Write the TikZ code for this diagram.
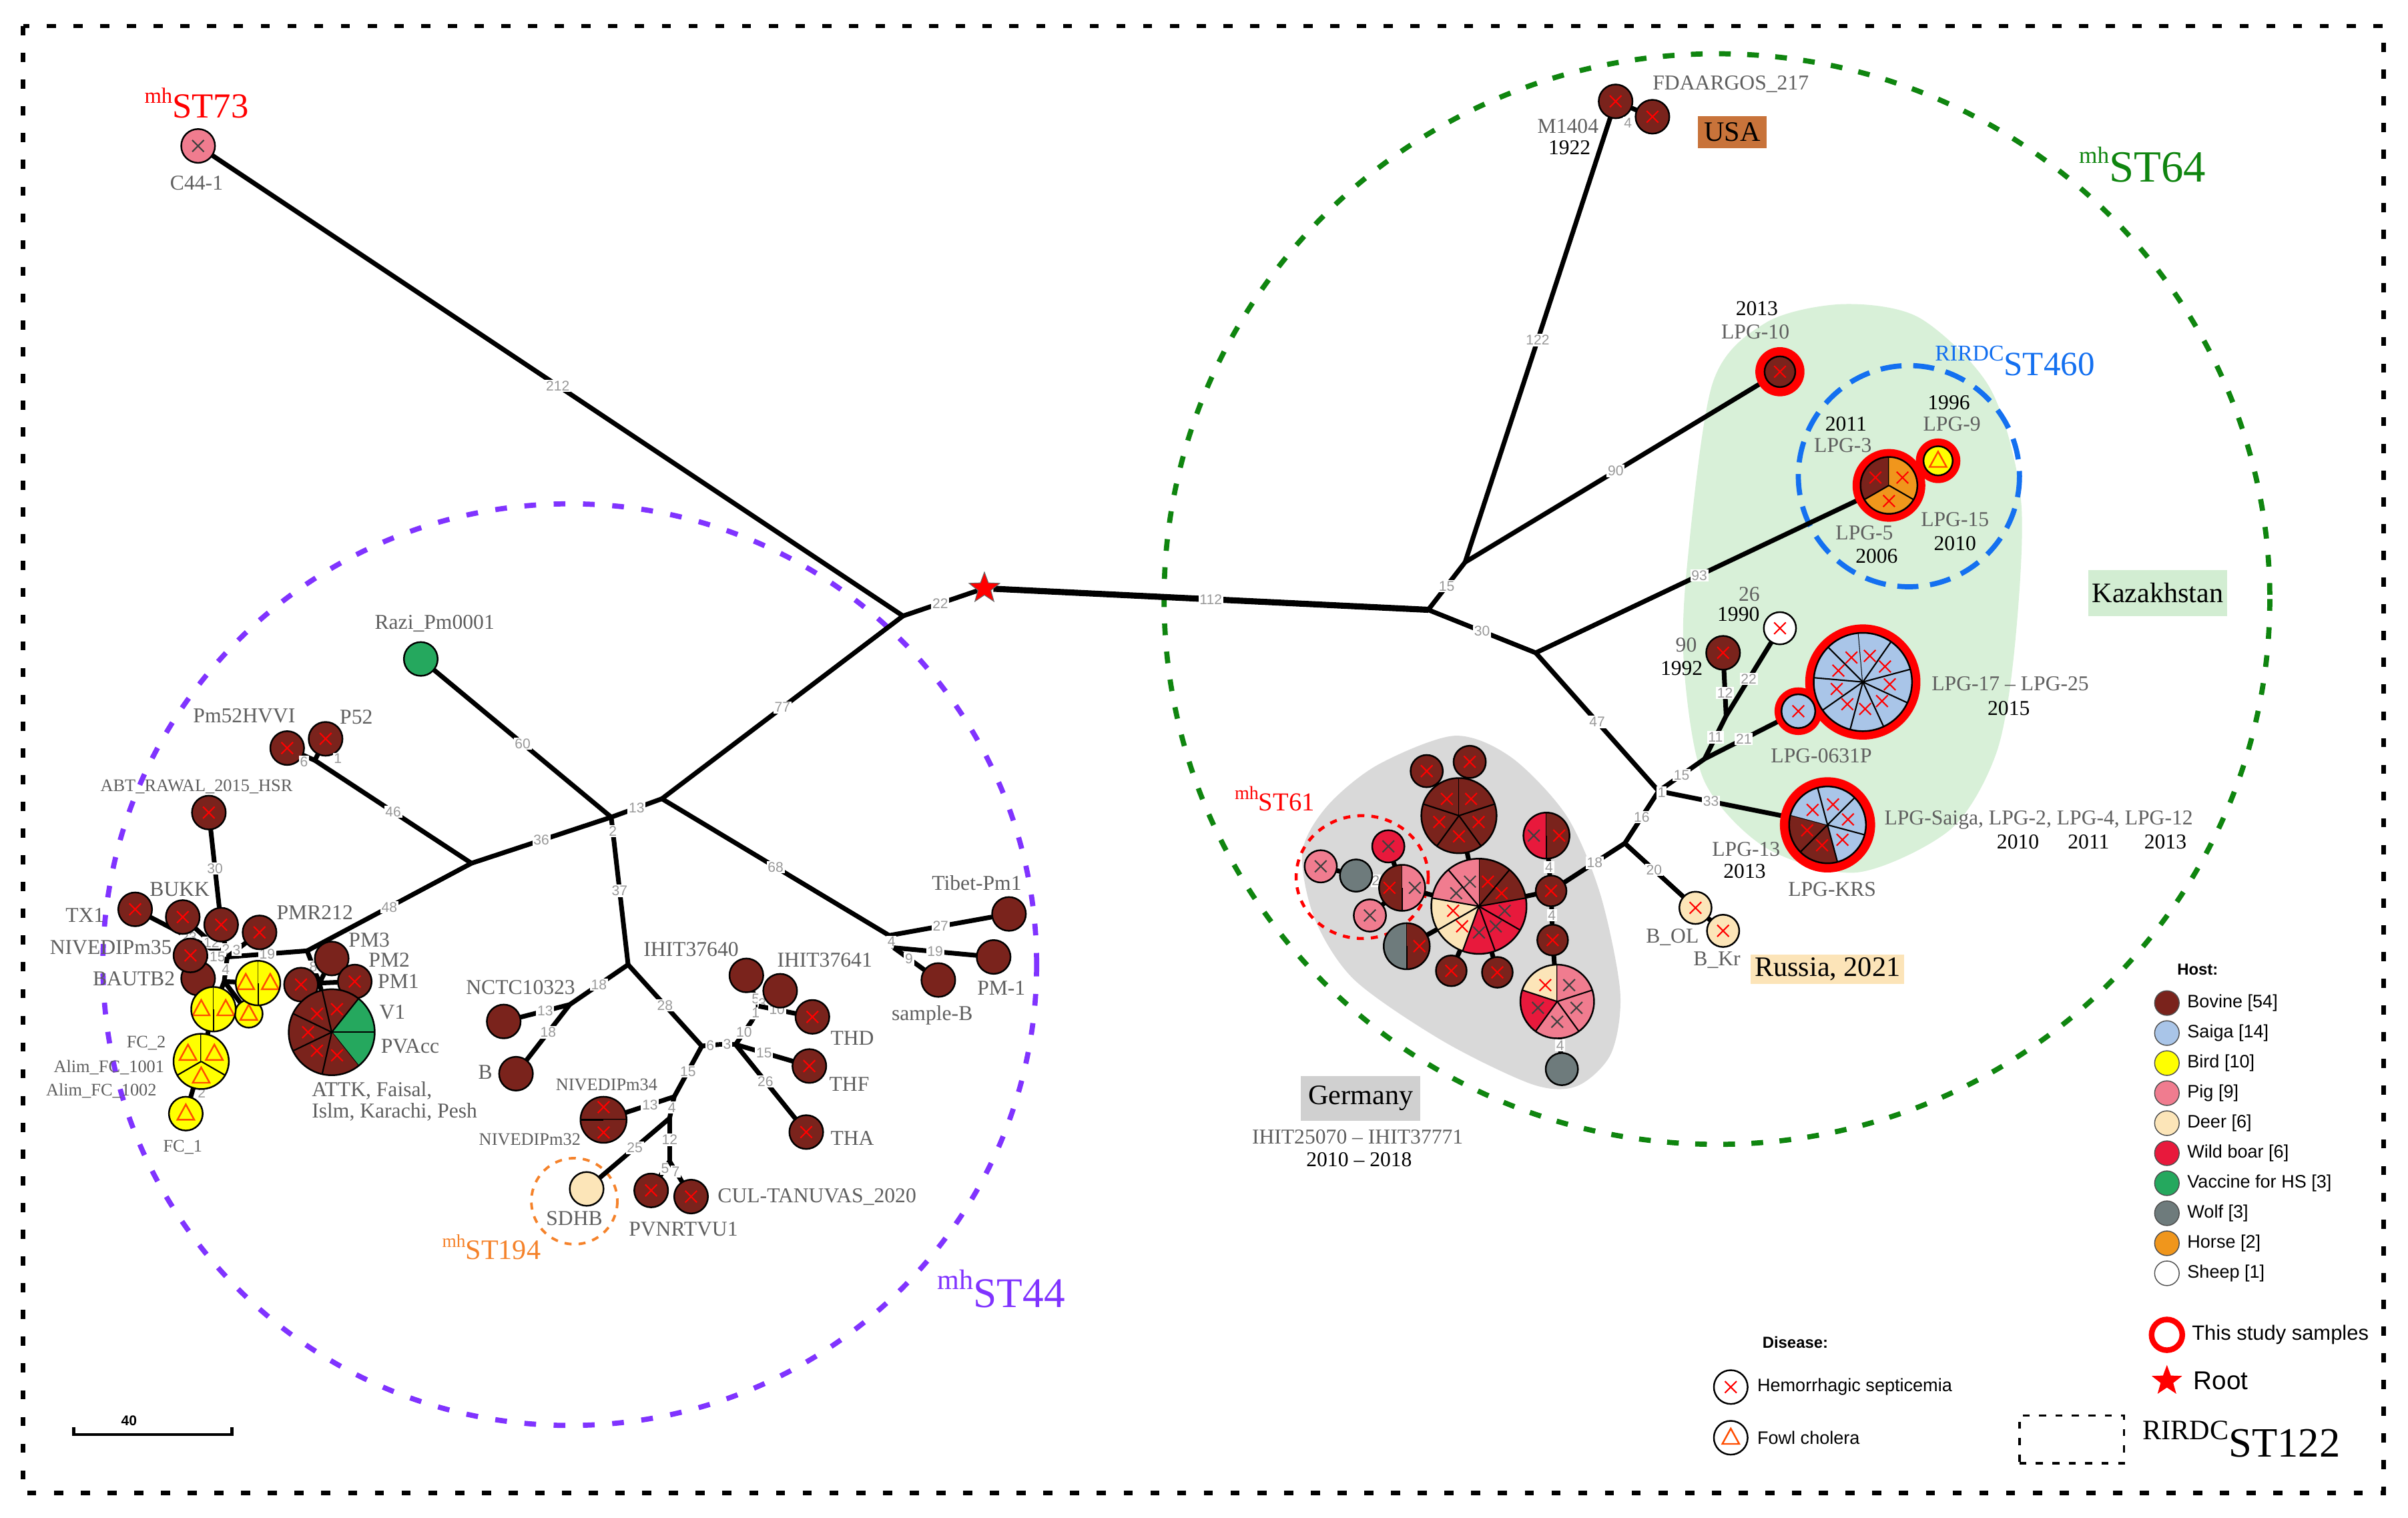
\documentclass[tikz,border=0pt]{standalone}
\usepackage{fontspec}
\setmainfont{Liberation Serif}
\newfontfamily\lsans{Liberation Sans}
\usetikzlibrary{shapes.geometric}

\definecolor{bovc}{HTML}{7A231C}
\definecolor{saigac}{HTML}{A9C5E8}
\definecolor{birdc}{HTML}{FFFF00}
\definecolor{pigc}{HTML}{F07C8F}
\definecolor{deerc}{HTML}{FCE5B8}
\definecolor{boarc}{HTML}{E8193C}
\definecolor{vaccc}{HTML}{25A85E}
\definecolor{wolfc}{HTML}{6E7B7C}
\definecolor{horsec}{HTML}{F0961C}
\definecolor{sheepc}{HTML}{FFFFFF}
\definecolor{tric}{HTML}{FF4D00}
\definecolor{st44c}{HTML}{8033FF}
\definecolor{st64c}{HTML}{0F850F}
\definecolor{st460c}{HTML}{1470F0}
\definecolor{st194c}{HTML}{F5822A}
\definecolor{kazc}{HTML}{D8F0D8}
\definecolor{kazbox}{HTML}{D2EDD2}
\definecolor{gerc}{HTML}{D9D9D9}
\definecolor{gerbox}{HTML}{D0D0D0}
\definecolor{usac}{HTML}{C8733A}
\definecolor{rusc}{HTML}{FCE4B8}
\definecolor{labc}{HTML}{5F5F5F}

\pgfdeclarelayer{back}
\pgfdeclarelayer{edges}
\pgfdeclarelayer{rings}
\pgfsetlayers{back,edges,rings,main}

\tikzset{
  mkred/.style={red, line width=0.6pt},
  mkdark/.style={black!75, line width=0.6pt},
  mktri/.style={draw=tric, line width=0.7pt}
}

\newcommand\dsu{0.02301cm}
\newcommand\sttag[3]{\raisebox{0.42em}{\fontsize{#3}{#3}\selectfont #1}#2}

% host node: name, position, radius, first angle, step, slices (colour/mark)
\newcommand\hostnode[6]{%
  \node[circle, inner sep=0pt, minimum size={2*#3*\dsu}] (#1) at (#2) {};
  \pgfmathtruncatemacro\smulti{abs(#5)<359}%
  \foreach \sC/\sM [count=\sI from 0] in {#6}{%
    \pgfmathsetmacro\sA{-(#4+\sI*#5)}%
    \pgfmathsetmacro\sB{-(#4+(\sI+1)*#5)}%
    \pgfmathsetmacro\sD{\smulti*0.55*#3}%
    \fill[\sC] (#1.center) -- ++(\sA:#3) arc[start angle=\sA, end angle=\sB, radius=#3] -- cycle;
    \ifnum\smulti=1 \draw[line width=0.6pt] (#1.center) -- ++(\sA:#3);\fi
    \path (#1.center) ++({(\sA+\sB)/2}:\sD) coordinate (hmk);
    \if x\sM \draw[mkred] (hmk) ++(-3.8,-3.8) -- ++(7.6,7.6) (hmk) ++(-3.8,3.8) -- ++(7.6,-7.6);\fi
    \if k\sM \draw[mkdark] (hmk) ++(-3.8,-3.8) -- ++(7.6,7.6) (hmk) ++(-3.8,3.8) -- ++(7.6,-7.6);\fi
    \if t\sM \draw[mktri] (hmk) ++(0,-6) -- ++(5.5,10) -- ++(-11,0) -- cycle;\fi
  }%
  \draw[line width=0.7pt] (#1.center) circle[radius=#3];
}

\begin{document}
\begin{tikzpicture}[x=0.02301cm, y=-0.02301cm,
  edge/.style={line width=2pt},
  el/.style={font=\lsans\fontsize{6}{6}\selectfont, text=black!40, fill=white, inner sep=0.5pt},
  lab/.style={font=\fontsize{9}{9}\selectfont, text=labc, inner sep=0.5pt},
  slab/.style={lab, font=\fontsize{7.5}{7.5}\selectfont},
  yr/.style={font=\fontsize{9}{9}\selectfont, text=black, inner sep=0.5pt},
  region/.style={font=\fontsize{12}{12}\selectfont, inner sep=0pt},
  leg/.style={font=\lsans\fontsize{7.7}{7.7}\selectfont, anchor=west, inner sep=0pt},
  legc/.style={circle, draw=black!70, line width=0.4pt, minimum size={16*\dsu}, inner sep=0pt}
]
\useasboundingbox (0,0) rectangle (1568,988);

% background shapes
\begin{pgfonlayer}{back}
  \fill[white] (0,0) rectangle (1568,988);
  \fill[kazc] plot[smooth cycle] coordinates {(1200,198) (1250,207) (1296,253) (1316,326) (1312,420) (1300,490) (1270,540) (1209,568) (1150,552) (1110,509) (1097,440) (1098,374) (1115,250) (1150,210)};
  \fill[gerc] plot[smooth cycle] coordinates {(947,479) (984,493) (1020,531) (1042,582) (1055,646) (1049,686) (1027,707) (998,706) (940,678) (882,638) (856,598) (848,555) (864,525) (897,498)};
  \draw[st44c, line width=2.2pt, dash pattern=on 5pt off 7.5pt] (371,628) ellipse[x radius=304, y radius=300];
  \draw[st64c, line width=2.2pt, dash pattern=on 5pt off 7pt] (1118,390) ellipse[x radius=360, y radius=355];
  \draw[st460c, line width=2.2pt, dash pattern=on 9pt off 5pt] (1243,310) circle[radius=72];
  \draw[red, line width=1.3pt, dash pattern=on 3pt off 3pt] (887,571) ellipse[x radius=43, y radius=40];
  \draw[st194c, line width=1.1pt, dash pattern=on 3pt off 3pt] (374,782) circle[radius=28];
  \draw[line width=1.9pt, dash pattern=on 3.9pt off 7.5pt] (15,17) rectangle (1552,972);
\end{pgfonlayer}

% junctions
\coordinate (j1) at (588,401);
\coordinate (j3) at (431,520);
\coordinate (j4) at (398,532);
\coordinate (j5) at (307,562);
\coordinate (jp) at (205,495);
\coordinate (jl2) at (200,619);
\coordinate (jl3) at (148,623);
\coordinate (jl4) at (146,639);
\coordinate (jl5) at (208,640);
\coordinate (j6) at (409,628);
\coordinate (jn) at (371,654);
\coordinate (j7) at (457,681);
\coordinate (j8) at (468,680);
\coordinate (j9) at (479,680);
\coordinate (ji0) at (490,664);
\coordinate (ji) at (494,655);
\coordinate (j10) at (439,714);
\coordinate (j11) at (436,728);
\coordinate (j13b) at (436,756);
\coordinate (j12) at (579,609);
\coordinate (jt2) at (582,617);
\coordinate (j13) at (930,397);
\coordinate (j14) at (954,366);
\coordinate (j15) at (1000,425);
\coordinate (j16) at (1080,515);
\coordinate (j17a) at (1110,494);
\coordinate (j17b) at (1124,466);
\coordinate (j18) at (1058,549);

% left group
\hostnode{c44}{129,95}{11}{90}{360}{pigc/k}
\hostnode{razi}{274,429}{11}{90}{360}{vaccc/n}
\hostnode{pmhv}{187,487}{11}{90}{360}{bovc/x}
\hostnode{p52}{212,481}{11}{90}{360}{bovc/x}
\hostnode{abt}{136,529}{11}{90}{360}{bovc/x}
\hostnode{tx1}{88,592}{11}{90}{360}{bovc/x}
\hostnode{bukk}{119,597}{11}{90}{360}{bovc/x}
\hostnode{n30}{144,602}{11}{90}{360}{bovc/x}
\hostnode{pmr}{169,607}{11}{90}{360}{bovc/x}
\hostnode{bautb}{129,637}{11}{90}{360}{bovc/n}
\hostnode{niv35}{124,622}{11}{90}{360}{bovc/x}
\hostnode{ysm}{162,660}{9}{90}{360}{birdc/t}
\hostnode{ya}{168,640}{14.5}{90}{180}{birdc/t,birdc/t}
\hostnode{yb}{139,657}{14.5}{90}{180}{birdc/t,birdc/t}
\hostnode{yfc}{131,691}{18}{90}{120}{birdc/t,birdc/t,birdc/t}
\hostnode{fc1}{121,725}{11}{90}{360}{birdc/t}
\hostnode{xn}{196,641}{11}{90}{360}{bovc/x}
\hostnode{pm3}{216,624}{11}{90}{360}{bovc/n}
\hostnode{pm1}{231,639}{11}{90}{360}{bovc/x}
\hostnode{attk}{216,672}{28}{-51.4286}{51.4286}{vaccc/n,vaccc/n,bovc/x,bovc/x,bovc/x,bovc/x,bovc/x}
\hostnode{nctc}{328,665}{11}{90}{360}{bovc/n}
\hostnode{bnode}{336,699}{11}{90}{360}{bovc/n}
\hostnode{ih40}{486,635}{11}{90}{360}{bovc/n}
\hostnode{ih41}{508,645}{11}{90}{360}{bovc/n}
\hostnode{thd}{529,662}{11}{90}{360}{bovc/x}
\hostnode{thf}{527,694}{11}{90}{360}{bovc/x}
\hostnode{tha}{525,737}{11}{90}{360}{bovc/x}
\hostnode{niv}{393,729}{15}{0}{180}{bovc/x,bovc/x}
\hostnode{sdhb}{382,774}{11}{90}{360}{deerc/n}
\hostnode{pvn}{424,775}{11}{90}{360}{bovc/x}
\hostnode{cul}{450,779}{11}{90}{360}{bovc/x}
\hostnode{tib}{657,595}{11}{90}{360}{bovc/n}
\hostnode{pm1b}{647,623}{11}{90}{360}{bovc/n}
\hostnode{smpb}{611,638}{11}{90}{360}{bovc/n}
\node[star, star points=5, star point ratio=2.4, fill=red, draw=black!60, line width=0.3pt, inner sep=0pt, minimum size={21*\dsu}] (root) at (641,383) {};

% right group
\hostnode{m1404}{1052,66}{11}{90}{360}{bovc/x}
\hostnode{fda}{1076,76}{11}{90}{360}{bovc/x}
\hostnode{lpg10}{1159,242}{10}{90}{360}{bovc/x}
\hostnode{lpg3}{1230,316}{18.5}{90}{120}{bovc/x,horsec/x,horsec/x}
\hostnode{lpg9}{1262,300}{9.5}{90}{360}{birdc/t}
\hostnode{sheep}{1159,409}{10.5}{90}{360}{sheepc/x}
\hostnode{n90}{1122,425}{11}{90}{360}{bovc/x}
\hostnode{lpg17}{1213,444}{32}{95}{40}{saigac/x,saigac/x,saigac/x,saigac/x,saigac/x,saigac/x,saigac/x,saigac/x,saigac/x}
\hostnode{lpg0631}{1171,463}{11}{90}{360}{saigac/x}
\hostnode{lpgkrs}{1190,537}{25}{165}{60}{bovc/x,bovc/x,saigac/x,saigac/x,saigac/x,saigac/x}
\hostnode{bol}{1104,591}{10.5}{90}{360}{deerc/x}
\hostnode{bkr}{1122,606}{10.5}{90}{360}{deerc/x}

% Germany group
\hostnode{gx1}{1010,580}{10}{90}{360}{bovc/x}
\hostnode{gtop}{950,531}{24.5}{90}{72}{bovc/x,bovc/x,bovc/x,bovc/x,bovc/x}
\hostnode{gt1}{929,502}{10.5}{90}{360}{bovc/x}
\hostnode{gt2}{957,496}{10.5}{90}{360}{bovc/x}
\hostnode{gbig}{963,590}{31}{90}{-40}{bovc/x,bovc/x,boarc/k,boarc/k,boarc/k,deerc/x,deerc/x,pigc/k,pigc/k}
\hostnode{gh1}{1007,544}{15}{90}{180}{boarc/k,bovc/x}
\hostnode{gb2}{1011,612}{10}{90}{360}{bovc/x}
\hostnode{gp5}{1014,652}{24}{90}{72}{deerc/x,boarc/k,pigc/k,pigc/k,pigc/k}
\hostnode{gwolf}{1017,696}{10.5}{90}{360}{wolfc/n}
\hostnode{gbb1}{945,632}{10}{90}{360}{bovc/x}
\hostnode{gbb2}{975,633}{10}{90}{360}{bovc/x}
\hostnode{gwb}{916,616}{15}{90}{180}{wolfc/n,bovc/x}
\hostnode{gbp}{913,578}{15}{90}{180}{bovc/x,pigc/k}
\hostnode{gboar}{904,551}{10.5}{90}{360}{boarc/k}
\hostnode{gpig1}{892,596}{10.5}{90}{360}{pigc/k}
\hostnode{gpig2}{860,564}{10.5}{90}{360}{pigc/k}
\hostnode{gwolf2}{883,570}{10.5}{90}{360}{wolfc/n}

% red rings of this study
\begin{pgfonlayer}{rings}
  \fill[red] (lpg10.center) circle[radius=16];
  \fill[red] (lpg3.center) circle[radius=23.7];
  \fill[red] (lpg9.center) circle[radius=14.5];
  \fill[red] (lpg17.center) circle[radius=37.5];
  \fill[red] (lpg0631.center) circle[radius=15.5];
  \fill[red] (lpgkrs.center) circle[radius=31];
\end{pgfonlayer}

% connectors
\begin{pgfonlayer}{edges}
  \draw[edge] (c44) -- node[el]{212} (j1);
  \draw[edge] (j1) -- node[el]{22} (root);
  \draw[edge] (j1) -- node[el]{77} (j3);
  \draw[edge] (j3) -- node[el]{13} (j4);
  \draw[edge] (j3) -- node[el]{68} (j12);
  \draw[edge] (j4) -- node[el]{60} (razi);
  \draw[edge] (j4) -- node[el]{36} (j5);
  \draw[edge] (j4) -- node[el]{37} (j6);
  \draw[edge] (j5) -- node[el]{46} (jp);
  \draw[edge] (jp) -- (pmhv);
  \draw[edge] (jp) -- (p52);
  \draw[edge] (j5) -- node[el]{48} (jl2);
  \draw[edge] (abt) -- node[el]{30} (n30);
  \draw[edge] (jl2) -- node[el]{19} (jl3);
  \draw[edge] (jl2) -- node[el]{8} (jl5);
  \draw[edge] (jl5) -- (pm3);
  \draw[edge] (jl5) -- (pm1);
  \draw[edge] (jl5) -- (xn);
  \draw[edge] (jl5) -- (attk);
  \draw[edge] (tx1) -- node[el]{23} (jl3);
  \draw[edge] (bukk) -- node[el]{12} (jl3);
  \draw[edge] (n30) -- node[el]{2} (jl3);
  \draw[edge] (pmr) -- node[el]{3} (jl3);
  \draw[edge] (niv35) -- node[el]{15} (jl3);
  \draw[edge] (jl3) -- node[el]{4} (jl4);
  \draw[edge] (jl4) -- (ya);
  \draw[edge] (jl4) -- (yb);
  \draw[edge] (jl4) -- (ysm);
  \draw[edge] (niv35) -- (bautb);
  \draw[edge] (yb) -- (yfc);
  \draw[edge] (yfc) -- node[el, right=1pt]{2} (fc1);
  \draw[edge] (j6) -- node[el]{18} (jn);
  \draw[edge] (jn) -- node[el]{13} (nctc);
  \draw[edge] (jn) -- node[el]{18} (bnode);
  \draw[edge] (j6) -- node[el]{28} (j7);
  \draw[edge] (j7) -- node[el]{6} (j8);
  \draw[edge] (j8) -- node[el]{3} (j9);
  \draw[edge] (j9) -- node[el]{10} (ji0);
  \draw[edge] (ji0) -- node[el]{1} (ji);
  \draw[edge] (ji) -- node[el]{5} (ih40);
  \draw[edge] (ji) -- node[el]{3} (ih41);
  \draw[edge] (ji) -- node[el]{10} (thd);
  \draw[edge] (j9) -- node[el]{15} (thf);
  \draw[edge] (j9) -- node[el]{26} (tha);
  \draw[edge] (j7) -- node[el]{15} (j10);
  \draw[edge] (j10) -- node[el]{13} (niv);
  \draw[edge] (j10) -- node[el]{4} (j11);
  \draw[edge] (j11) -- node[el]{25} (sdhb);
  \draw[edge] (j11) -- node[el]{12} (j13b);
  \draw[edge] (j13b) -- node[el]{5} (pvn);
  \draw[edge] (j13b) -- node[el]{7} (cul);
  \draw[edge] (j12) -- node[el]{27} (tib);
  \draw[edge] (j12) -- node[el]{4} (jt2);
  \draw[edge] (jt2) -- node[el]{19} (pm1b);
  \draw[edge] (jt2) -- node[el]{9} (smpb);
  \draw[edge, line width=2.6pt] (root) -- node[el]{112} (j13);
  \draw[edge] (j13) -- node[el]{15} (j14);
  \draw[edge] (j13) -- node[el]{30} (j15);
  \draw[edge] (j14) -- node[el]{122} (m1404);
  \draw[edge] (m1404) -- (fda);
  \draw[edge] (j14) -- node[el]{90} (lpg10);
  \draw[edge] (j15) -- node[el]{93} (lpg3);
  \draw[edge] (lpg3) -- (lpg9);
  \draw[edge] (j15) -- node[el]{47} (j16);
  \draw[edge] (j16) -- node[el]{15} (j17a);
  \draw[edge] (j17a) -- node[el]{11} (j17b);
  \draw[edge] (j17b) -- node[el]{12} (n90);
  \draw[edge] (j17b) -- node[el]{22} (sheep);
  \draw[edge] (j17a) -- node[el]{21} (lpg0631);
  \draw[edge] (j16) -- node[el, pos=0.4]{33} (lpgkrs);
  \draw[edge] (j16) -- node[el]{16} (j18);
  \draw[edge] (j18) -- node[el]{20} (bol);
  \draw[edge] (bol) -- (bkr);
  \draw[edge] (j18) -- node[el]{18} (gx1);
  \draw[edge] (gx1) -- (gbig);
  \draw[edge] (gx1) -- node[el]{4} (gh1);
  \draw[edge] (gx1) -- node[el]{4} (gb2);
  \draw[edge] (gb2) -- (gp5);
  \draw[edge] (gp5) -- node[el]{4} (gwolf);
  \draw[edge] (gbig) -- (gtop);
  \draw[edge] (gtop) -- (gt1);
  \draw[edge] (gtop) -- (gt2);
  \draw[edge] (gbig) -- (gbb1);
  \draw[edge] (gbig) -- (gbb2);
  \draw[edge] (gbig) -- (gwb);
  \draw[edge] (gbig) -- (gbp);
  \draw[edge] (gbp) -- (gboar);
  \draw[edge] (gbp) -- (gpig1);
  \draw[edge] (gbp) -- node[el]{2} (gwolf2);
  \draw[edge] (gwolf2) -- (gpig2);
\end{pgfonlayer}
\node[el] (e2j4) at (399,541) {2};
\node[el] (e6p) at (198,496) {6};
\node[el] (e1p) at (220,494) {1};
\node[el] (e4usa) at (1060,80) {4};
\node[el] (e1j16) at (1082,516) {1};

% type labels
\node[font=\fontsize{15}{15}\selectfont, text=red] (st73) at (128,67) {\sttag{mh}{ST73}{9.3}};
\node[font=\fontsize{18}{18}\selectfont, text=st44c] (st44) at (652,839) {\sttag{mh}{ST44}{12}};
\node[font=\fontsize{12}{12}\selectfont, text=st194c] (st194) at (320,812) {\sttag{mh}{ST194}{7.8}};
\node[font=\fontsize{11}{11}\selectfont, text=red] (st61) at (830,520) {\sttag{mh}{ST61}{8}};
\node[font=\fontsize{19}{19}\selectfont, text=st64c] (st64) at (1395,107) {\sttag{mh}{ST64}{10}};
\node[font=\fontsize{14.5}{14.5}\selectfont, text=st460c] (st460) at (1312,235) {\sttag{RIRDC}{ST460}{9.6}};

% left labels
\node[lab] (lc44) at (128,119) {C44-1};
\node[lab] (lrazi) at (283,406) {Razi\_Pm0001};
\node[lab] (lpmhv) at (159,466) {Pm52HVVI};
\node[lab] (lp52) at (232,467) {P52};
\node[slab] (labt) at (128,512) {ABT\_RAWAL\_2015\_HSR};
\node[lab, anchor=east] (ltx1) at (69,596) {TX1};
\node[lab] (lbukk) at (117,579) {BUKK};
\node[lab] (lpmr) at (205,594) {PMR212};
\node[lab, anchor=east] (lniv35) at (113,617) {NIVEDIPm35};
\node[lab, anchor=east] (lbautb) at (115,637) {BAUTB2};
\node[slab, anchor=east] (lfc2) at (109,679) {FC\_2};
\node[slab, anchor=east] (lal1) at (108,695) {Alim\_FC\_1001};
\node[slab, anchor=east] (lal2) at (103,710) {Alim\_FC\_1002};
\node[slab] (lfc1) at (119,747) {FC\_1};
\node[lab, anchor=west] (lpm3) at (226,612) {PM3};
\node[lab, anchor=west] (lpm2) at (239,625) {PM2};
\node[lab, anchor=west] (lpm1) at (245,639) {PM1};
\node[lab, anchor=west] (lv1) at (246,659) {V1};
\node[lab, anchor=west] (lpvacc) at (247,681) {PVAcc};
\node[lab, anchor=west] (lattk) at (202,710) {ATTK, Faisal,};
\node[lab, anchor=west] (lislm) at (202,724) {Islm, Karachi, Pesh};
\node[lab] (lnctc) at (339,643) {NCTC10323};
\node[lab] (lb) at (316,698) {B};
\node[lab] (lih40) at (450,618) {IHIT37640};
\node[lab] (lih41) at (537,625) {IHIT37641};
\node[lab] (lthd) at (555,676) {THD};
\node[lab] (lthf) at (553,706) {THF};
\node[lab] (ltha) at (555,741) {THA};
\node[slab] (lniv34) at (395,706) {NIVEDIPm34};
\node[slab] (lniv32) at (345,742) {NIVEDIPm32};
\node[lab] (lsdhb) at (374,793) {SDHB};
\node[lab] (lpvn) at (445,800) {PVNRTVU1};
\node[lab] (lcul) at (532,779) {CUL-TANUVAS\_2020};
\node[lab] (ltib) at (636,575) {Tibet-Pm1};
\node[lab] (lpm1b) at (652,643) {PM-1};
\node[lab] (lsmpb) at (607,661) {sample-B};

% right labels
\node[lab] (lfda) at (1127,55) {FDAARGOS\_217};
\node[lab] (lm1404) at (1021,82) {M1404};
\node[yr] (y1922) at (1022,96) {1922};
\node[region, fill=usac, minimum width={45*\dsu}, minimum height={21*\dsu}] (usa) at (1128,86) {USA};
\node[yr] (y2013a) at (1144,201) {2013};
\node[lab] (llpg10) at (1143,216) {LPG-10};
\node[yr] (y2011a) at (1202,276) {2011};
\node[lab] (llpg3) at (1200,290) {LPG-3};
\node[yr] (y1996) at (1269,262) {1996};
\node[lab] (llpg9) at (1271,276) {LPG-9};
\node[lab] (llpg15) at (1273,338) {LPG-15};
\node[yr] (y2010a) at (1273,354) {2010};
\node[lab] (llpg5) at (1214,347) {LPG-5};
\node[yr] (y2006) at (1222,362) {2006};
\node[region, fill=kazbox, minimum width={90*\dsu}, minimum height={30*\dsu}] (kaz) at (1405,386) {Kazakhstan};
\node[lab] (l26) at (1139,387) {26};
\node[yr] (y1990) at (1132,400) {1990};
\node[lab] (l90) at (1098,420) {90};
\node[yr] (y1992) at (1095,435) {1992};
\node[lab] (llpg17) at (1309,445) {LPG-17 – LPG-25};
\node[yr] (y2015) at (1308,461) {2015};
\node[lab] (llpg0631) at (1186,492) {LPG-0631P};
\node[lab, anchor=west] (lsaiga) at (1226,534) {LPG-Saiga, LPG-2, LPG-4, LPG-12};
\node[yr] (y2010b) at (1314,548) {2010};
\node[yr] (y2011b) at (1360,548) {2011};
\node[yr] (y2013b) at (1410,548) {2013};
\node[lab] (llpg13) at (1137,553) {LPG-13};
\node[yr] (y2013c) at (1136,567) {2013};
\node[lab] (llpgkrs) at (1193,579) {LPG-KRS};
\node[lab] (lbol) at (1089,610) {B\_OL};
\node[lab] (lbkr) at (1118,625) {B\_Kr};
\node[region, fill=rusc, minimum width={100*\dsu}, minimum height={19*\dsu}] (rus) at (1190,631) {Russia, 2021};
\node[region, fill=gerbox, minimum width={78*\dsu}, minimum height={29*\dsu}] (ger) at (886,715) {Germany};
\node[lab] (lihit) at (884,740) {IHIT25070 – IHIT37771};
\node[yr] (y1018) at (885,755) {2010 – 2018};

% legend
\node[font=\lsans\bfseries\fontsize{6.8}{6.8}\selectfont] (hosttitle) at (1431,631) {Host:};
\foreach \lc/\lt [count=\li from 0] in {bovc/{Bovine [54]},saigac/{Saiga [14]},birdc/{Bird [10]},pigc/{Pig [9]},deerc/{Deer [6]},boarc/{Wild boar [6]},vaccc/{Vaccine for HS [3]},wolfc/{Wolf [3]},horsec/{Horse [2]},sheepc/{Sheep [1]}}{
  \node[legc, fill=\lc] (hc\li) at (1411,{653+19.55*\li}) {};
  \node[leg] (ht\li) at (1424,{653+19.55*\li}) {\lt};
}
\node[circle, draw=red, line width=2.4pt, minimum size={20*\dsu}, inner sep=0pt] (studyring) at (1411,869) {};
\node[leg, font=\lsans\fontsize{8.8}{8.8}\selectfont] (studytxt) at (1427,869) {This study samples};
\node[star, star points=5, star point ratio=2.4, fill=red, draw=red, inner sep=0pt, minimum size={19*\dsu}] (rootleg) at (1411,899) {};
\node[leg, font=\lsans\fontsize{11}{11}\selectfont] (roottxt) at (1428,899) {Root};
\node[font=\lsans\bfseries\fontsize{6.8}{6.8}\selectfont] (distitle) at (1169,874) {Disease:};
\hostnode{hsleg}{1127,903}{11}{90}{360}{white/x}
\hostnode{fcleg}{1127,936}{11}{90}{360}{white/t}
\node[leg] (hstxt) at (1144,903) {Hemorrhagic septicemia};
\node[leg] (fctxt) at (1144,936) {Fowl cholera};
\node[draw, line width=1pt, dash pattern=on 3pt off 4pt, minimum width={68*\dsu}, minimum height={31*\dsu}] (st122box) at (1349,937) {};
\node[font=\fontsize{17.8}{17.8}\selectfont, anchor=west, inner sep=0pt] (st122) at (1395,937) {\sttag{RIRDC}{ST122}{12}};

% scale bar
\draw[line width=1.2pt] (48,929) -- (48,934) -- (151,934) -- (151,929);
\node[font=\lsans\bfseries\fontsize{6}{6}\selectfont] (scale40) at (84,925) {40};
\end{tikzpicture}
\end{document}
